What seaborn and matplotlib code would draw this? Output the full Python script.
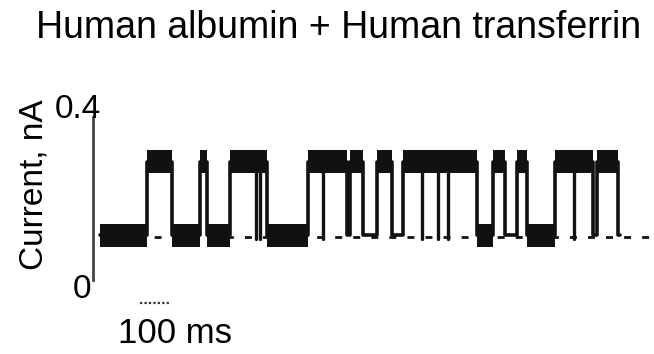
import numpy as np
import pandas as pd
import matplotlib
matplotlib.use("Agg")
import matplotlib.pyplot as plt
import seaborn as sns

# ---- data ----
title = "Human albumin + Human transferrin"
y_label = "Current, nA"
y_tick_labels = ["0", "0.4"]
scale_bar_label = "100 ms"
scale_bar_ms = 100

low_level = 0.11      # nA
high_level = 0.29     # nA
baseline_level = 0.105
trace_start = 0       # ms
trace_end = 1733      # ms
baseline_end = 1847   # ms

high_start = [157, 333, 433, 693, 833, 923, 1010, 1310, 1390, 1517, 1657]
high_end = [240, 357, 557, 823, 877, 973, 1257, 1350, 1423, 1643, 1727]
dip_times = [520, 535, 743, 1073, 1127, 1160, 1580]

# ---- build step trace ----
times = [trace_start]
levels = [low_level]
for s, e in zip(high_start, high_end):
    times += [s, e]
    levels += [high_level, low_level]
times.append(trace_end)
levels.append(low_level)
df = pd.DataFrame({"t": times, "I": levels})

sns.set_theme(style="white")
plt.rcParams["font.family"] = ["Liberation Sans", "DejaVu Sans"]
plt.rcParams["text.color"] = "black"

W, H = 654, 354
fig = plt.figure(figsize=(W / 100, H / 100), dpi=100)
ax = fig.add_axes([93 / W, (H - 280) / H, (W - 93) / W, 163 / H])
ax.set_xlim(-23, 1847)
ax.set_ylim(0, 0.4)

ink = "#111111"
# dashed baseline
ax.plot([trace_start, baseline_end], [baseline_level, baseline_level],
        color=ink, lw=2.0, ls=(0, (2.5, 4)), zorder=1)

# step trace
sns.lineplot(data=df, x="t", y="I", drawstyle="steps-post", estimator=None,
             sort=False, color=ink, lw=2.6, ax=ax, zorder=3)

# thick noisy bands
half = 0.028
for i in range(len(times) - 1):
    t0, t1, lv = times[i], times[i + 1], levels[i]
    if lv == low_level and (t1 - t0) < 50:
        continue
    ax.fill_between([t0, t1], lv - half, lv + half, color=ink, lw=0, zorder=2)

# brief downward dips inside high states
for d in dip_times:
    ax.plot([d, d], [low_level - 0.01, high_level], color=ink, lw=2.4, zorder=3)

# axis styling
for sp in ["top", "right", "bottom"]:
    ax.spines[sp].set_visible(False)
ax.spines["left"].set_linestyle((0, (1, 1)))
ax.spines["left"].set_linewidth(2.0)
ax.spines["left"].set_color("#444444")
ax.set_xticks([])
ax.set_yticks([])
ax.set_xlabel("")
ax.set_ylabel("")

# scale bar
ybar = (280 - 303) / 163 * 0.4
ax.plot([133, 133 + scale_bar_ms], [ybar, ybar], color="#333333", lw=1.6,
        ls=(0, (1, 1)), clip_on=False)

fs = 24
fig.text(101 / W, (H - 109) / H, y_tick_labels[1], ha="right", va="center", fontsize=fs)
fig.text(91 / W, (H - 290) / H, y_tick_labels[0], ha="right", va="center", fontsize=fs)
fig.text(34 / W, (H - 185) / H, y_label, rotation=90, ha="center", va="center", fontsize=fs)
fig.text(36 / W, (H - 38) / H, title, ha="left", va="baseline", fontsize=27)
fig.text(175 / W, (H - 343) / H, scale_bar_label, ha="center", va="baseline", fontsize=25)

fig.savefig("out.png", dpi=100)
